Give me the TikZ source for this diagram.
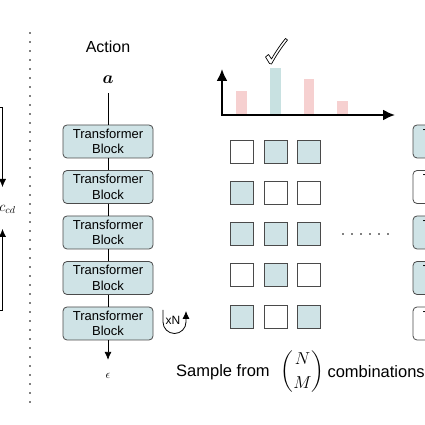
\documentclass[tikz,border=0pt]{standalone}
\usepackage{fontspec}
\setmainfont{Liberation Sans}
\usepackage{amsmath}
\usepackage{bm}
\usetikzlibrary{arrows.meta}
\definecolor{tealfill}{HTML}{CFE3E6}
\definecolor{tealbar}{HTML}{C8E1E1}
\definecolor{pinkbar}{HTML}{F6D0D0}
\definecolor{edgegray}{HTML}{4A4A4A}
\begin{document}
\begin{tikzpicture}[x=1pt,y=1pt,
  tblock/.style={draw=edgegray, fill=tealfill, rounded corners=4pt, line width=0.8pt, minimum width=90pt, minimum height=33pt, inner sep=0pt, align=center, font=\fontsize{13}{15.5}\selectfont},
  tblockw/.style={tblock, fill=white},
  cell/.style={draw=edgegray, fill=white, line width=0.9pt, minimum size=23pt, inner sep=0pt},
  cellf/.style={cell, fill=tealfill},
  tip/.style={-{Latex[length=8pt,width=7pt]}}]
\useasboundingbox (0,0) rectangle (425,425);
% cut-off part on the left
\coordinate (ctop) at (-10,318);
\coordinate (cin) at (2.5,238);
\coordinate (cbot) at (-10,115);
\coordinate (cout) at (2.5,196);
\node [anchor=east, font=\fontsize{14}{14}\selectfont] (ccd) at (19,216) {$c_{cd}$};
\draw [tip] (ctop) -| (cin);
\draw [tip] (cbot) -| (cout);
\draw [line width=1.7pt, dash pattern=on 0pt off 9pt, line cap=round] (30,392) -- (30,23);
% action stack
\node [font=\fontsize{16}{16}\selectfont] (act) at (108,378) {Action};
\node [font=\fontsize{18}{18}\selectfont] (a) at (108,345) {$\bm{a}$};
\node [tblock] (tb1) at (108,283.5) {Transformer\\Block};
\node [tblock] (tb2) at (108,238) {Transformer\\Block};
\node [tblock] (tb3) at (108,192.5) {Transformer\\Block};
\node [tblock] (tb4) at (108,147) {Transformer\\Block};
\node [tblock] (tb5) at (108,101.5) {Transformer\\Block};
\node [font=\fontsize{13}{13}\selectfont] (eps) at (108,49) {$\epsilon$};
\draw [line width=0.8pt, shorten <=6pt] (a) -- (tb1);
\draw [line width=0.8pt] (tb1) -- (tb2);
\draw [line width=0.8pt] (tb2) -- (tb3);
\draw [line width=0.8pt] (tb3) -- (tb4);
\draw [line width=0.8pt] (tb4) -- (tb5);
\draw [tip, line width=0.8pt, shorten >=10pt] (tb5) -- (eps);
\node [font=\fontsize{12}{12}\selectfont, inner sep=0pt] (xn) at (173,105) {xN};
\draw [-{Latex[length=8pt,width=7pt]}, line width=0.8pt] (163,115) -- (163,103) arc [start angle=180, end angle=360, radius=11.5] -- (186,114);
% bar chart
\coordinate (org) at (222,310);
\coordinate (ytip) at (222,356);
\coordinate (xtip) at (395,310);
\fill [pinkbar] (236,311) rectangle (247,334);
\fill [tealbar] (270,311) rectangle (281,357);
\fill [pinkbar] (304,311) rectangle (314,346);
\fill [pinkbar] (337,311) rectangle (348,324);
\draw [line width=2pt, {Latex[length=12pt,width=11pt]}-{Latex[length=12pt,width=11pt]}] (ytip) -- (org) -- (xtip);
\draw [fill=white, line width=0.7pt, line join=round] (265.5,368) -- (268.5,370.5) -- (271.5,366) .. controls (276,374) and (281,381) .. (285.5,386.5) -- (287.5,385) .. controls (281,377) and (276,369) .. (271.5,361) -- (269.5,361.5) -- cycle;
% combinations
\node [cell] (c11) at (242,273.5) {};
\node [cellf] (c12) at (275.5,273.5) {};
\node [cellf] (c13) at (308.5,273.5) {};
\node [cellf] (c21) at (242,232.5) {};
\node [cell] (c22) at (275.5,232.5) {};
\node [cell] (c23) at (308.5,232.5) {};
\node [cellf] (c31) at (242,191.5) {};
\node [cellf] (c32) at (275.5,191.5) {};
\node [cellf] (c33) at (308.5,191.5) {};
\node [cell] (c41) at (242,150) {};
\node [cellf] (c42) at (275.5,150) {};
\node [cell] (c43) at (308.5,150) {};
\node [cellf] (c51) at (242,108.5) {};
\node [cell] (c52) at (275.5,108.5) {};
\node [cellf] (c53) at (308.5,108.5) {};
\draw [line width=1.8pt, dash pattern=on 0pt off 9pt, line cap=round] (343,191) -- (389,191);
% cut-off stack on the right
\node [tblock] (rb1) at (458,283.5) {Transformer\\Block};
\node [tblockw] (rb2) at (458,238) {Transformer\\Block};
\node [tblock] (rb3) at (458,192.5) {Transformer\\Block};
\node [tblock] (rb4) at (458,147) {Transformer\\Block};
\node [tblockw] (rb5) at (458,101.5) {Transformer\\Block};
\node [font=\fontsize{16.5}{16.5}\selectfont] (smp) at (223,53) {Sample from};
\node [font=\fontsize{16.5}{16.5}\selectfont] (bin) at (302.5,53) {$\dbinom{N}{M}$};
\node [anchor=west, font=\fontsize{16.5}{16.5}\selectfont] (cmb) at (324,53) {combinations};
\end{tikzpicture}
\end{document}
